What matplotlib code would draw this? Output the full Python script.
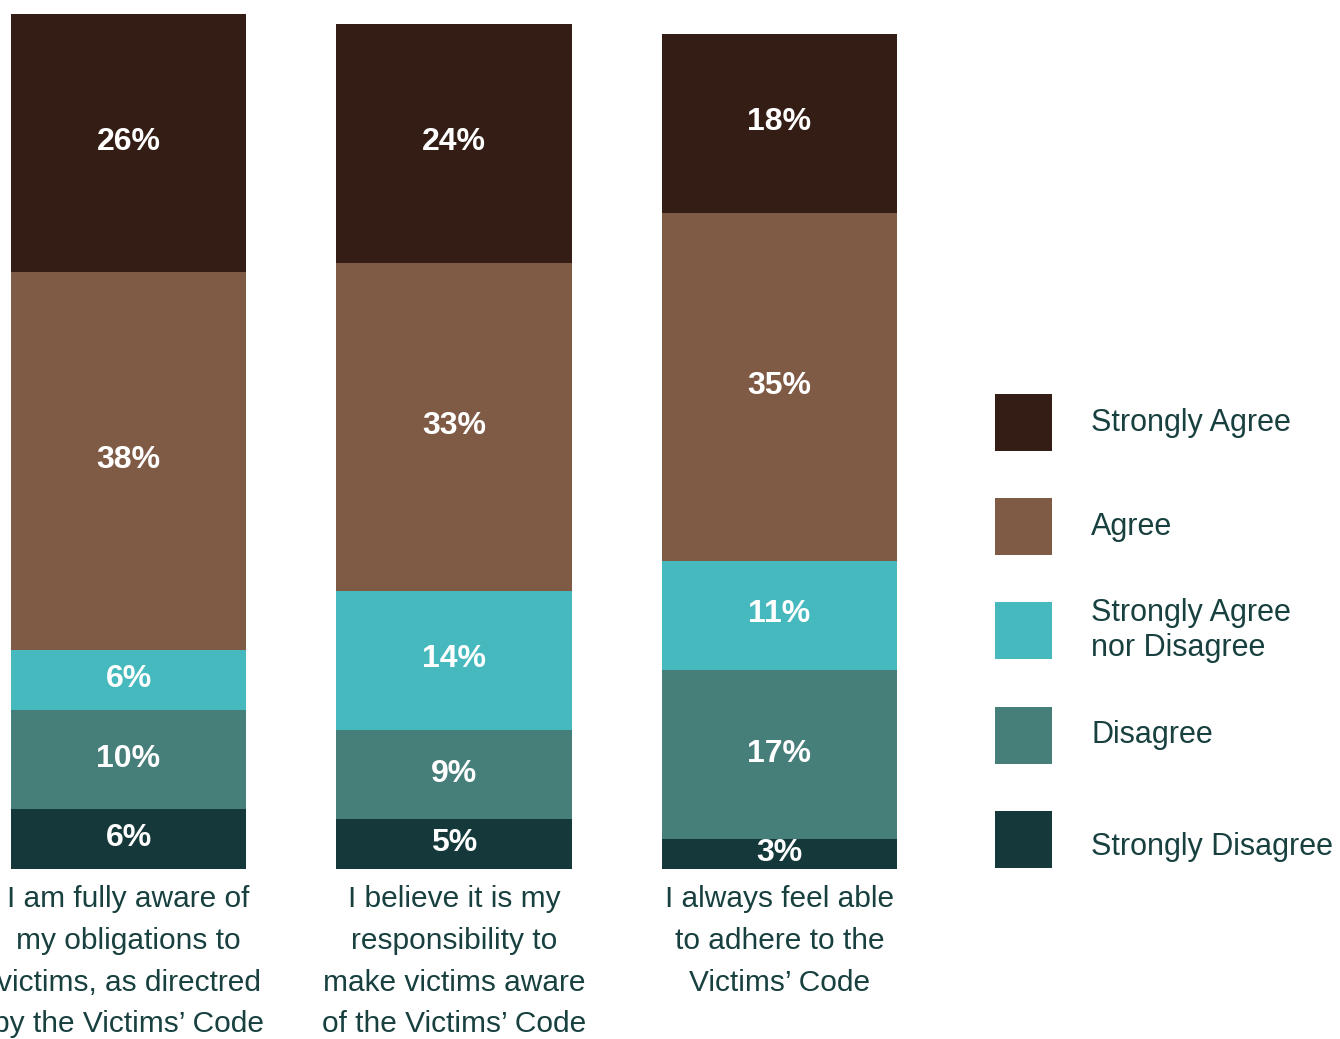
import matplotlib
matplotlib.use("Agg")
import matplotlib.pyplot as plt
from matplotlib.patches import Rectangle
import numpy as np

categories = [
    "I am fully aware of\nmy obligations to\nvictims, as directred\nby the Victims\u2019 Code",
    "I believe it is my\nresponsibility to\nmake victims aware\nof the Victims\u2019 Code",
    "I always feel able\nto adhere to the\nVictims\u2019 Code",
]
series_names = ["Strongly Disagree", "Disagree", "Strongly Agree\nnor Disagree", "Agree", "Strongly Agree"]
strongly_disagree = [6, 5, 3]
disagree = [10, 9, 17]
neither = [6, 14, 11]
agree = [38, 33, 35]
strongly_agree = [26, 24, 18]
colors = ["#15393A", "#467F7A", "#45B9BD", "#7F5B45", "#331D14"]
text_color = "#17403F"

W, H = 1340, 1039
fig = plt.figure(figsize=(W / 100, H / 100), dpi=100)
fig.patch.set_facecolor("white")

bw = 0.722
x0, x1 = 11, 897
ytop, ybot = 14, 869
ax = fig.add_axes([x0 / W, (H - ybot) / H, (x1 - x0) / W, (ybot - ytop) / H])
ax.set_xlim(-bw / 2, 2 + bw / 2)
ax.set_ylim(0, 86)
ax.axis("off")

x = np.arange(len(categories))
series = [strongly_disagree, disagree, neither, agree, strongly_agree]
bottom = np.zeros(len(categories))
for name, vals, col in zip(series_names, series, colors):
    vals = np.array(vals, dtype=float)
    ax.bar(x, vals, bw, bottom=bottom, color=col, label=name, linewidth=0)
    for xi, v, b in zip(x, vals, bottom):
        ax.text(xi, b + v / 2 + 0.1, f"{int(v)}%", ha="center", va="center",
                color="white", fontsize=23, fontweight="bold", family="Liberation Sans")
    bottom += vals

for xi, lab in zip(x, categories):
    ax.text(xi, -1.6, lab, ha="center", va="top", color=text_color, fontsize=21.5,
            family="Liberation Sans", linespacing=1.63, clip_on=False)

# legend (reversed order: Strongly Agree on top)
sq = 57
lx = 995
tops = [394, 498, 602, 707, 811]
nudges = [0, 0, 0, 0, 7]
for name, col, top, nd in zip(series_names[::-1], colors[::-1], tops, nudges):
    fig.patches.append(Rectangle((lx / W, (H - top - sq) / H), sq / W, sq / H,
                                 transform=fig.transFigure, color=col, linewidth=0))
    fig.text(1091 / W, (H - top - sq / 2 - nd) / H, name, ha="left", va="center",
             color=text_color, fontsize=22, family="Liberation Sans", linespacing=1.18)

fig.savefig("out.png", dpi=100)
